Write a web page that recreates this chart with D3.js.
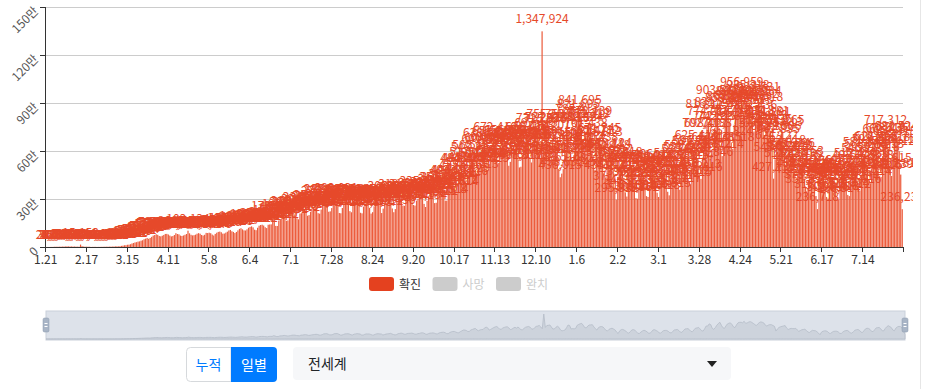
<!DOCTYPE html>
<html>
<head>
<meta charset="utf-8">
<script src="https://cdn.jsdelivr.net/npm/d3@7"></script>
<style>
  body { margin: 0; background: #fff; }
  svg { display: block; font-family: "Noto Sans CJK KR", "Noto Sans", sans-serif; }
</style>
</head>
<body>
<svg id="chart" width="927" height="389"></svg>
<script>
// daily confirmed cases, world, starting 2020-01-21
var startDate = new Date(2020, 0, 21);

var cases2020 = [
  282, 314, 259, 457, 688, 769, 1771, 1459, 1737, 1981, 2099,
  2589, 2825, 3235, 3884, 3694, 3143, 3385, 2652, 2973, 2467, 2015, 2076, 15153, 5090, 2641, 2056, 1926, 1876, 1721, 398, 891, 1016, 1008, 543, 879, 911, 1194, 1331, 1654,
  1958, 1763, 2453, 2234, 2687, 2891, 3845, 4010, 3825, 4637, 7165, 8283, 10832, 11157, 14005, 14602, 17416, 21924, 25120, 28734, 30263, 33942, 35207, 39754, 42193, 48582, 52041, 55873, 51217, 56523, 63512,
  71326, 75018, 79672, 76207, 68864, 66543, 70492, 75264, 81635, 82012, 78126, 71409, 66285, 68643, 74936, 86164, 81012, 79217, 71321, 68905, 72104, 76412, 81318, 102134, 85512, 76413, 72462, 73902, 77114, 83231,
  86512, 83013, 75254, 71641, 76412, 88354, 87105, 89402, 86164, 77621, 71846, 81915, 89253, 94418, 96317, 92125, 83436, 84214, 89875, 95612, 103324, 106642, 98416, 94134, 87325, 94012, 103837, 113212, 117356, 110453, 104124,
  103236, 110365, 120458, 125614, 129054, 122713, 108256, 105112, 120316, 133217, 137562, 139532, 134245, 123603, 118314, 139268, 140915, 141624, 179238, 157415, 132036, 131412, 165318, 169624, 176934, 192357, 178612, 163832, 165941, 180456,
  203312, 210048, 206915, 191246, 180013, 172862, 209365, 211428, 224413, 234814, 217348, 195624, 199453, 220147, 230546, 245318, 251126, 242615, 211416, 208632, 234412, 275315, 281217, 287643, 256341, 220415, 222816, 243327, 286761, 290415, 292031,
  256136, 212653, 210718, 243816, 275314, 280419, 283634, 265125, 224014, 216934, 258813, 274615, 288812, 279436, 264017, 213936, 210408, 252319, 274132, 270815, 270036, 244512, 208863, 217642, 254413, 278126, 285519, 272312, 267875, 212312, 239836,
  263412, 277816, 283134, 305613, 268914, 240815, 217436, 237015, 286436, 299217, 318145, 298618, 259354, 257412, 292716, 305416, 307825, 317612, 297418, 262315, 258917, 289613, 301516, 326917, 335213, 316413, 269406, 250134, 288815, 317218,
  321612, 329946, 309823, 274415, 276512, 324517, 349624, 359843, 365452, 339615, 289618, 289514, 344912, 383316, 403634, 406215, 375124, 342012, 335814, 396312, 435816, 484214, 482415, 458312, 401216, 416123, 487136, 517413, 548312, 565182, 483612,
  446613, 489382, 509926, 511824, 601517, 638582, 604311, 481015, 518413, 565218, 616432, 651219, 672416, 610904, 525143, 530018, 592316, 626743, 650135, 656914, 596342, 507781, 532208, 592612, 629856, 586412, 645813, 576145, 497318, 501612,
  574326, 636018, 655143, 676412, 629815, 549816, 528162, 613425, 681342, 697413, 731256, 651204, 553617, 1347924, 625813, 725376, 737410, 755218, 643915, 535816, 548213, 631542, 688015, 626318, 488516, 436015, 458632, 486913, 611245, 753612, 728415
];

var cases2021 = [
  541236, 559614, 545312, 573418, 738215, 785413, 821695, 841695, 739824, 615312, 595617, 701438, 755218, 761312, 772139, 652417, 553618, 482156, 612438, 658712, 671245, 645813, 566124, 458617, 435214, 519836, 562418, 578124, 536412, 481935, 371236,
  295812, 438215, 502613, 516218, 478915, 431826, 341625, 315406, 398214, 486312, 505406, 478218, 392516, 305214, 301862, 372415, 432618, 472312, 441806, 385214, 318125, 312436, 386514, 488813, 501218, 458613, 412836, 339214,
  312418, 398215, 452613, 463812, 459316, 413218, 345216, 322815, 412536, 487213, 498315, 512436, 456218, 372614, 358217, 452815, 538612, 551418, 559623, 497215, 403812, 392615, 498214, 587316, 596218, 625413, 542816, 446213, 425816, 553417, 702318,
  698412, 816325, 774218, 575312, 521846, 612438, 742815, 831246, 903512, 742836, 612415, 568214, 702815, 812436, 853612, 868214, 782415, 651824, 612518, 765231, 872418, 898612, 902415, 876218, 956959, 842315, 868412, 912836, 935218, 898415,
  842613, 782318, 721456, 812436, 884362, 922531, 901284, 862418, 742815, 698214, 752613, 774181, 771291, 727136, 682306, 427136, 548612, 624122, 661835, 683506, 705413, 721265, 592418, 512436, 548312, 573624, 562418, 558612, 575326, 486215, 412836,
  452318, 498615, 512436, 525153, 462815, 378214, 351826, 412536, 468296, 452318, 446215, 392418, 318625, 236718, 372415, 421836, 438215, 436912, 398214, 312845, 302916, 368214, 412536, 421718, 418236, 382615, 305418, 296814, 372618, 428315,
  452318, 461215, 412836, 325614, 318412, 392815, 472316, 498215, 512436, 468213, 368214, 352816, 452318, 546215, 581342, 568215, 512436, 412815, 398214, 502318, 598215, 612836, 621458, 552318, 442816, 438215, 568213, 662418, 717312, 668435, 615218,
  482615, 443739, 586412, 652318, 681524, 672815, 598213, 452816, 236231
];

var yTicks = [0, 300000, 600000, 900000, 1200000, 1500000];
var legendNames = ["확진", "사망", "완치"];
var modeButtons = ["누적", "일별"];
var regionName = "전세계";

var values = cases2020.concat(cases2021);
var dates = values.map(function(v, i){ return d3.timeDay.offset(startDate, i); });
var labelEvery = 27;

var svg = d3.select("#chart");
var plotLeft = 45, plotRight = 903, plotTop = 7, plotBottom = 247;
var red = "#e6492a";

var x = d3.scaleBand().domain(d3.range(values.length)).range([plotLeft, plotRight])
    .paddingInner(0.2).paddingOuter(0.1);
var y = d3.scaleLinear().domain([0, 1500000]).range([plotBottom, plotTop]);

// grid
svg.append("g").selectAll("line").data(yTicks.slice(1)).enter().append("line")
    .attr("x1", plotLeft).attr("x2", plotRight)
    .attr("y1", function(d){ return Math.round(y(d)) + 0.5; })
    .attr("y2", function(d){ return Math.round(y(d)) + 0.5; })
    .attr("stroke", "#ccc");

// y axis
var yAxis = svg.append("g");
yAxis.append("line").attr("x1", plotLeft + 0.5).attr("x2", plotLeft + 0.5)
    .attr("y1", plotTop).attr("y2", plotBottom).attr("stroke", "#333");
yAxis.selectAll("line.tick").data(yTicks).enter().append("line").attr("class", "tick")
    .attr("x1", plotLeft - 5).attr("x2", plotLeft)
    .attr("y1", function(d){ return Math.round(y(d)) + 0.5; })
    .attr("y2", function(d){ return Math.round(y(d)) + 0.5; })
    .attr("stroke", "#333");
yAxis.selectAll("text").data(yTicks).enter().append("text")
    .attr("transform", function(d){ return "translate(" + (plotLeft - 6) + "," + (y(d) + 5) + ") rotate(-45)"; })
    .attr("text-anchor", "end")
    .attr("font-size", 12).attr("fill", "#555")
    .text(function(d){ return d == 0 ? "0" : (d / 10000) + "만"; });

// chart clip
svg.append("clipPath").attr("id", "clip").append("rect")
    .attr("x", 33).attr("y", 0).attr("width", 913 - 33).attr("height", 250);

var plot = svg.append("g").attr("clip-path", "url(#clip)");

plot.append("g").selectAll("rect").data(values).enter().append("rect")
    .attr("x", function(d, i){ return x(i); })
    .attr("y", function(d){ return y(d); })
    .attr("width", x.bandwidth())
    .attr("height", function(d){ return plotBottom - y(d); })
    .attr("fill", "#ec5c3c");

plot.append("g").selectAll("text").data(values).enter().append("text")
    .attr("x", function(d, i){ return x(i) + x.bandwidth() / 2; })
    .attr("y", function(d){ return y(d) - 8; })
    .attr("text-anchor", "middle")
    .attr("font-size", 12)
    .attr("fill", red)
    .text(function(d){ return d3.format(",")(d); });

// x axis
var xAxis = svg.append("g");
xAxis.append("line").attr("x1", plotLeft).attr("x2", plotRight)
    .attr("y1", plotBottom + 0.5).attr("y2", plotBottom + 0.5).attr("stroke", "#333");
var tickIdx = d3.range(0, values.length + 1, labelEvery);
xAxis.selectAll("line.tick").data(tickIdx).enter().append("line").attr("class", "tick")
    .attr("x1", function(i){ return Math.round(plotLeft + i * x.step()) + 0.5; })
    .attr("x2", function(i){ return Math.round(plotLeft + i * x.step()) + 0.5; })
    .attr("y1", plotBottom).attr("y2", plotBottom + 5).attr("stroke", "#333");
xAxis.selectAll("text").data(tickIdx.filter(function(i){ return i < values.length; })).enter().append("text")
    .attr("x", function(i){ return x(i) + x.bandwidth() / 2; })
    .attr("y", plotBottom + 17)
    .attr("text-anchor", "middle")
    .attr("font-size", 12).attr("fill", "#333")
    .text(function(i){ var d = dates[i]; return (d.getMonth() + 1) + "." + d.getDate(); });

// legend
var legend = svg.append("g");
legendNames.forEach(function(name, k){
    var lx = 369 + k * 63.5;
    legend.append("rect").attr("x", lx).attr("y", 277).attr("width", 25).attr("height", 14)
        .attr("rx", 3).attr("fill", k == 0 ? "#e4411f" : "#ccc");
    legend.append("text").attr("x", lx + 30).attr("y", 288.5)
        .attr("font-size", 12).attr("fill", k == 0 ? "#333" : "#ccc").text(name);
});

// data zoom slider
var dz = svg.append("g");
var dzTop = 311, dzBottom = 340, dzLeft = 46, dzRight = 905;
dz.append("rect").attr("x", dzLeft).attr("y", dzTop).attr("width", dzRight - dzLeft).attr("height", dzBottom - dzTop)
    .attr("fill", "#dde2ea").attr("stroke", "#c9d0da");
var sx = d3.scaleLinear().domain([0, values.length - 1]).range([dzLeft, dzRight]);
var sy = d3.scaleLinear().domain([0, d3.max(values)]).range([dzBottom - 1, dzTop + 3]);
dz.append("path").datum(values)
    .attr("d", d3.area().x(function(d, i){ return sx(i); }).y0(dzBottom - 1).y1(function(d){ return sy(d); }))
    .attr("fill", "#cdd3dc").attr("stroke", "#b5bdc8").attr("stroke-width", 0.8);
[dzLeft, dzRight].forEach(function(hx){
    dz.append("rect").attr("x", hx - 3).attr("y", 318).attr("width", 6).attr("height", 14)
        .attr("rx", 1.5).attr("fill", "#a9b5c6").attr("stroke", "#8a99ad").attr("stroke-width", 0.5);
    dz.append("line").attr("x1", hx - 1.5).attr("x2", hx + 1.5).attr("y1", 323.5).attr("y2", 323.5).attr("stroke", "#fff");
    dz.append("line").attr("x1", hx - 1.5).attr("x2", hx + 1.5).attr("y1", 326.5).attr("y2", 326.5).attr("stroke", "#fff");
});

// buttons
var btn = svg.append("g");
btn.append("path").attr("d", "M190.5,347.5 H231 V381.5 H190.5 Q186.5,381.5 186.5,377.5 V351.5 Q186.5,347.5 190.5,347.5 Z")
    .attr("fill", "#fff").attr("stroke", "#d6d9dc");
btn.append("path").attr("d", "M231,347 H273 Q277,347 277,351 V378 Q277,382 273,382 H231 Z")
    .attr("fill", "#007bff");
btn.append("text").attr("x", 208.5).attr("y", 370).attr("text-anchor", "middle")
    .attr("font-size", 14).attr("fill", "#007bff").text(modeButtons[0]);
btn.append("text").attr("x", 254).attr("y", 370).attr("text-anchor", "middle")
    .attr("font-size", 14).attr("fill", "#fff").text(modeButtons[1]);

// region select
btn.append("rect").attr("x", 293).attr("y", 347).attr("width", 438).attr("height", 33)
    .attr("rx", 4).attr("fill", "#f6f7f9");
btn.append("text").attr("x", 308).attr("y", 369).attr("font-size", 14).attr("fill", "#212529").text(regionName);
btn.append("path").attr("d", "M707,361 L717,361 L712,367 Z").attr("fill", "#222");

// page edge
svg.append("line").attr("x1", 920.5).attr("x2", 920.5).attr("y1", 0).attr("y2", 389).attr("stroke", "#e6e6e6");
</script>
</body>
</html>
